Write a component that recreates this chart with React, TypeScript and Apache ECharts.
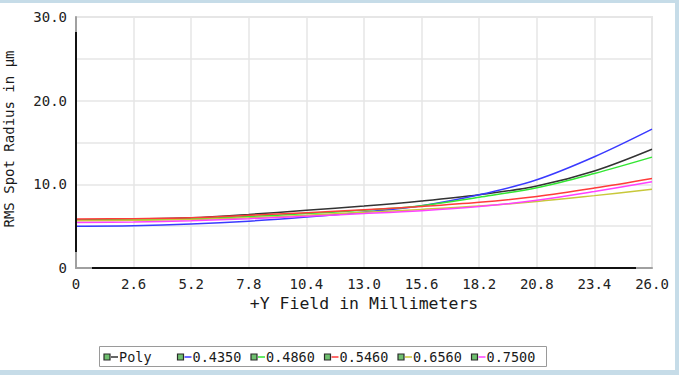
import React, { useEffect, useRef } from "react";
import * as echarts from "echarts";

// ---- data ----
const fieldMm = [0, 2.6, 5.2, 7.8, 10.4, 13.0, 15.6, 18.2, 20.8, 23.4, 26.0];
const seriesNames = ["Poly", "0.4350", "0.4860", "0.5460", "0.6560", "0.7500"];
const poly = [5.75, 5.85, 6.0, 6.4, 6.9, 7.4, 8.0, 8.75, 9.8, 11.6, 14.2];
const w4350 = [5.0, 5.05, 5.25, 5.6, 6.1, 6.7, 7.45, 8.75, 10.55, 13.3, 16.6];
const w4860 = [5.7, 5.75, 5.9, 6.15, 6.5, 6.9, 7.45, 8.45, 9.6, 11.3, 13.25];
const w5460 = [5.85, 5.9, 6.0, 6.3, 6.6, 6.95, 7.35, 7.85, 8.55, 9.55, 10.7];
const w6560 = [5.65, 5.7, 5.8, 6.0, 6.3, 6.65, 7.0, 7.4, 7.95, 8.65, 9.4];
const w7500 = [5.45, 5.5, 5.65, 5.9, 6.2, 6.5, 6.85, 7.35, 8.1, 9.15, 10.3];
const seriesValues = [poly, w4350, w4860, w5460, w6560, w7500];
const xTitle = "+Y Field in Millimeters";
const yTitle = "RMS Spot Radius in µm";

// ---- style ----
const colors = ["#333333", "#3a3aff", "#33e633", "#ff3b3b", "#c8c83a", "#ff40ff"];
const MONO = '"DejaVu Sans Mono", monospace';
const W = 679;
const H = 375;
const G = { left: 76, top: 17, right: 27, bottom: 107 };

export default function App() {
  const ref = useRef<HTMLDivElement>(null);
  useEffect(() => {
    if (!ref.current) return;
    const chart = echarts.init(ref.current, null, { renderer: "svg" });
    const plotR = W - G.right;
    const plotB = H - G.bottom;

    const legendItems: any[] = [];
    const lx0 = 104;
    const lstep = 73.5;
    const ly = 357;
    seriesNames.forEach((name, i) => {
      const x0 = lx0 + lstep * i;
      legendItems.push(
        { type: "rect", shape: { x: x0, y: ly - 3, width: 6, height: 6 }, style: { fill: "#6fc06f", stroke: "#2a2a2a", lineWidth: 1.2 } },
        { type: "line", shape: { x1: x0 + 7, y1: ly, x2: x0 + 14, y2: ly }, style: { stroke: colors[i], lineWidth: 1.5 } },
        { type: "text", x: x0 + 15, y: ly, style: { text: name, font: `13.5px ${MONO}`, fill: "#1a1a1a", align: "left", verticalAlign: "middle", textAlign: "left", textVerticalAlign: "middle" } }
      );
    });

    chart.setOption({
      animation: false,
      backgroundColor: "transparent",
      grid: { left: G.left, top: G.top, right: G.right, bottom: G.bottom, show: true, borderColor: "#e6e6e6", borderWidth: 2, backgroundColor: "#fff" },
      xAxis: {
        type: "value",
        min: 0,
        max: 26,
        interval: 2.6,
        axisLine: { show: true, onZero: false, lineStyle: { color: "#a0a0a0", width: 2 } },
        axisTick: { show: false },
        splitLine: { show: true, lineStyle: { color: "#e6e6e6", width: 1.5 } },
        axisLabel: {
          color: "#222",
          fontFamily: MONO,
          fontSize: 14,
          margin: 9,
          formatter: (v: number) => (v === 0 ? "0" : v.toFixed(1)),
        },
      },
      yAxis: {
        type: "value",
        min: 0,
        max: 30,
        interval: 5,
        axisLine: { show: true, lineStyle: { color: "#a0a0a0", width: 2 } },
        axisTick: { show: false },
        splitLine: { show: true, lineStyle: { color: "#e6e6e6", width: 1.5 } },
        axisLabel: {
          color: "#222",
          fontFamily: MONO,
          fontSize: 14,
          margin: 9,
          formatter: (v: number) => (v % 10 === 0 ? (v === 0 ? "0" : v.toFixed(1)) : ""),
        },
      },
      series: seriesNames.map((name, i) => ({
        name,
        type: "line",
        data: fieldMm.map((x, j) => [x, seriesValues[i][j]]),
        showSymbol: false,
        smooth: 0.35,
        lineStyle: { color: colors[i], width: 1.5 },
        itemStyle: { color: colors[i] },
        z: 3,
      })),
      graphic: [
        { type: "line", z: 10, shape: { x1: G.left, y1: G.top + 15, x2: G.left, y2: plotB - 16 }, style: { stroke: "#111", lineWidth: 2 } },
        { type: "line", z: 10, shape: { x1: G.left + 16, y1: plotB, x2: plotR - 16, y2: plotB }, style: { stroke: "#111", lineWidth: 2 } },
        {
          type: "text",
          x: (G.left + plotR) / 2,
          y: 303,
          style: { text: xTitle, font: `16.5px ${MONO}`, fill: "#1a1a1a", align: "center", verticalAlign: "middle", textAlign: "center", textVerticalAlign: "middle" },
        },
        {
          type: "text",
          x: 9,
          y: 139,
          rotation: Math.PI / 2,
          style: { text: yTitle, font: `14px ${MONO}`, fill: "#1a1a1a", align: "center", verticalAlign: "middle", textAlign: "center", textVerticalAlign: "middle" },
        },
        { type: "rect", shape: { x: 99.5, y: 346.5, width: 447, height: 20 }, style: { fill: "#fff", stroke: "#9a9a9a", lineWidth: 1 } },
        ...legendItems,
      ],
    });
    return () => chart.dispose();
  }, []);

  return (
    <div style={{ position: "fixed", left: 0, top: 0, width: W, height: H, background: "#c6dce8", overflow: "hidden" }}>
      <div style={{ position: "absolute", left: 0, top: 3, width: 675, height: 367, background: "#fff" }} />
      <div ref={ref} style={{ position: "absolute", left: 0, top: 0, width: W, height: H }} />
    </div>
  );
}
